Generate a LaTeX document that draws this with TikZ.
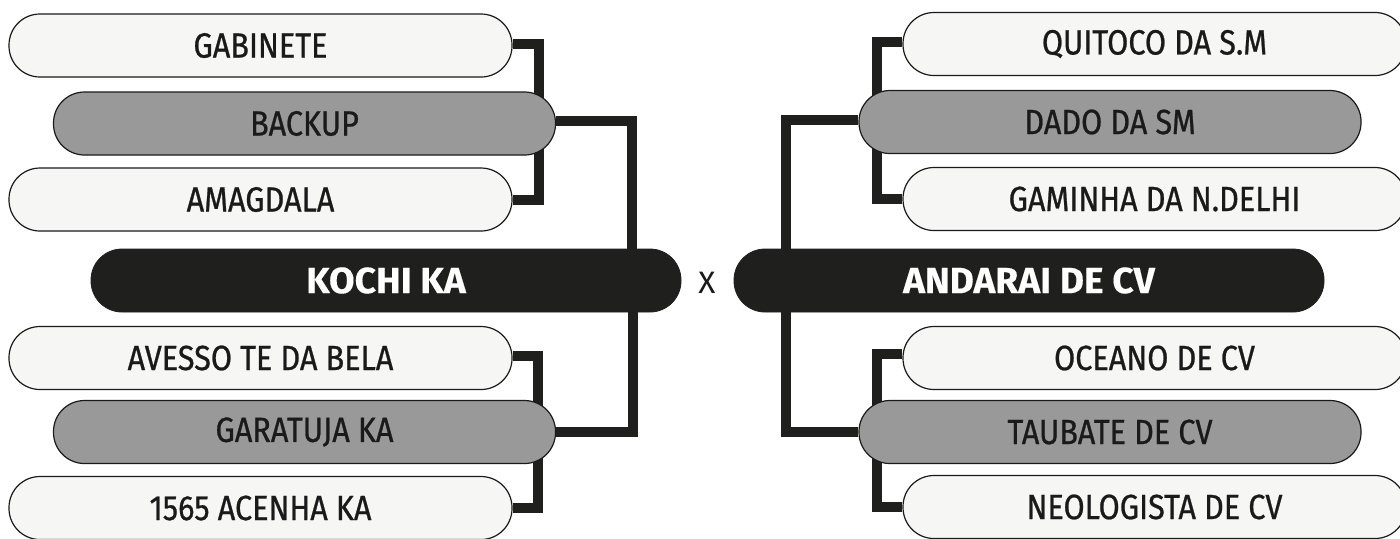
\documentclass[tikz,border=0pt]{standalone}
\usepackage{fontspec}
\setmainfont{Fira Sans}[FakeStretch=0.875,FakeBold=0.7,BoldFeatures={FakeBold=0.3}]
\newfontfamily\teamfont{Fira Sans}[FakeStretch=1.02,BoldFeatures={FakeBold=0.3}]
\usetikzlibrary{calc}
\definecolor{lightfill}{HTML}{F6F6F4}
\definecolor{midfill}{HTML}{999999}
\definecolor{darkfill}{HTML}{1F1F1D}
\definecolor{inktext}{HTML}{1A1A1A}
\begin{document}
\begin{tikzpicture}[x=0.5pt,y=-0.5pt,
  pill/.style={draw=inktext,line width=0.6pt,rounded corners=15.5pt,minimum height=31.5pt,inner sep=0pt,
     font=\fontsize{17.5}{19}\selectfont,text=inktext},
  lightpill/.style={pill,fill=lightfill,minimum width=251.5pt},
  graypill/.style={pill,fill=midfill,minimum width=251pt},
  teampill/.style={draw=darkfill,fill=darkfill,rounded corners=15.5pt,minimum height=31.5pt,minimum width=295pt,inner sep=0pt,
     font=\teamfont\fontsize{18.2}{20}\selectfont\bfseries,text=white},
  conn/.style={draw=darkfill,line width=5pt,line join=miter}]
\clip (0,0) rectangle (1400,538);
\fill[white] (0,0) rectangle (1400,538);
\path (260.5,45.5) coordinate (cgab) (304.5,123.5) coordinate (cbak) (260.5,199.5) coordinate (cama)
      (386,280.5) coordinate (ckoc)
      (260.5,358) coordinate (cave) (304.5,432) coordinate (cgar) (260.5,508) coordinate (cace)
      (1154.5,44) coordinate (cqui) (1110,122) coordinate (cdad) (1154.5,199) coordinate (cgam)
      (1029,280.5) coordinate (cand)
      (1154.5,358) coordinate (coce) (1110,432) coordinate (ctau) (1154.5,507) coordinate (cneo);
\node[lightpill] (gab) at (cgab) {GABINETE};
\node[lightpill] (ama) at (cama) {AMAGDALA};
\node[lightpill] (ave) at (cave) {AVESSO TE DA BELA};
\node[lightpill] (ace) at (cace) {1565 ACENHA KA};
\node[lightpill] (qui) at (cqui) {QUITOCO DA S.M};
\node[lightpill] (gam) at (cgam) {GAMINHA DA N.DELHI};
\node[lightpill] (oce) at (coce) {OCEANO DE CV};
\node[lightpill] (neo) at (cneo) {NEOLOGISTA DE CV};
% connectors between the three boxes of each group
\draw[conn] ([yshift=1pt]gab.east) -- ++(26.5,0) coordinate (lj1) |- (ama.east);
\draw[conn] ([yshift=1pt]ave.east) -- ++(25,0) coordinate (lj2) |- (ace.east);
\draw[conn] ([yshift=1pt]qui.west) -- ++(-25,0) coordinate (rj1) |- (gam.west);
\draw[conn] ([yshift=2pt]oce.west) -- ++(-25,0) coordinate (rj2) |- (neo.west);
\node[graypill] (bak) at (cbak) {BACKUP};
\node[graypill] (gar) at (cgar) {GARATUJA KA};
\node[graypill] (dad) at (cdad) {DADO DA SM};
\node[graypill] (tau) at (ctau) {TAUBATE DE CV};
\node[teampill] (koc) at (ckoc) {KOCHI KA};
\node[teampill] (and) at (cand) {ANDARAI DE CV};
% connectors to the team boxes
\draw[conn] ([yshift=1.5pt]bak.east) -| ($(koc.north)+(246,0)$);
\draw[conn] (gar.east) -| ($(koc.south)+(247,0)$);
\draw[conn] ([yshift=1pt]dad.west) -| ($(and.north)+(-243,0)$);
\draw[conn] (tau.west) -| ($(and.south)+(-243,0)$);
\node[font=\teamfont\fontsize{15.5}{17}\selectfont,text=inktext] (vs) at (707,282.5) {X};
\end{tikzpicture}
\end{document}
